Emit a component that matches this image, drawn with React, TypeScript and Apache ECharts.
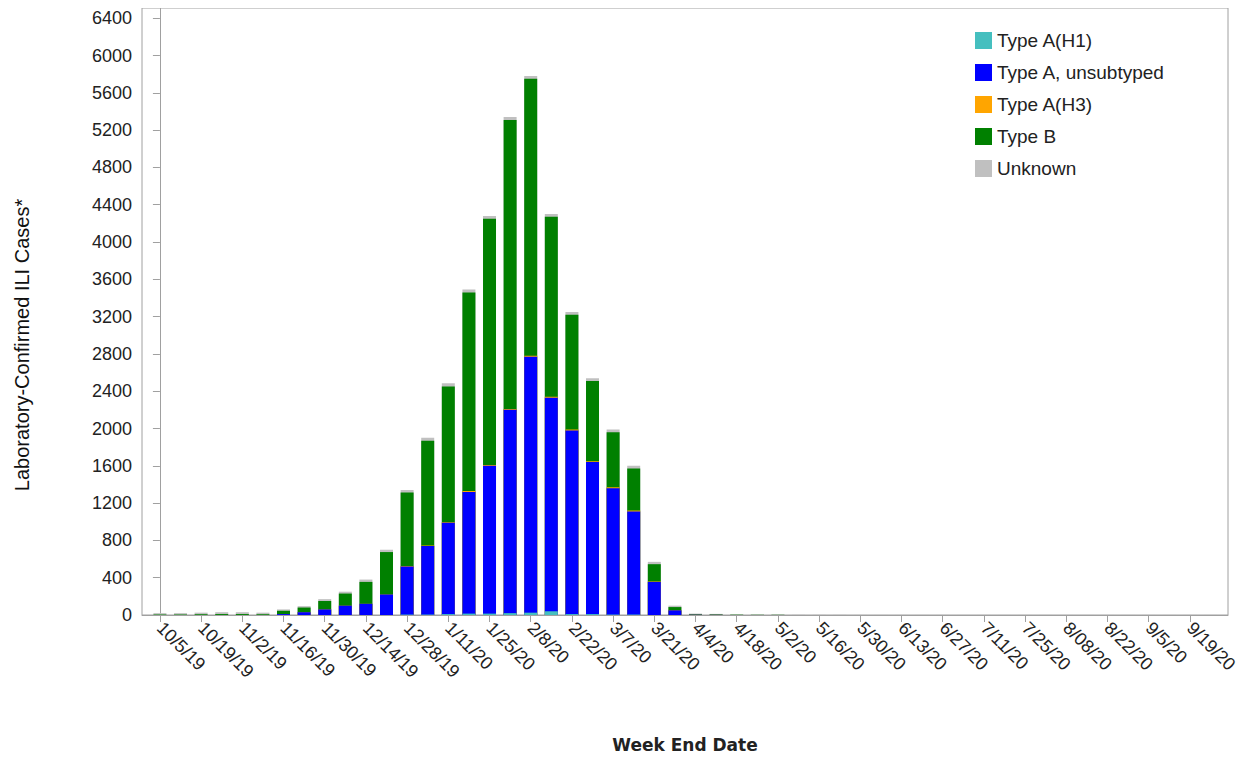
import { useEffect, useRef } from "react";
import * as echarts from "echarts";

const weeks = [
  "10/5/19", "10/12/19", "10/19/19", "10/26/19", "11/2/19", "11/9/19", "11/16/19", "11/23/19",
  "11/30/19", "12/7/19", "12/14/19", "12/21/19", "12/28/19", "1/4/20", "1/11/20", "1/18/20",
  "1/25/20", "2/1/20", "2/8/20", "2/15/20", "2/22/20", "2/29/20", "3/7/20", "3/14/20",
  "3/21/20", "3/28/20", "4/4/20", "4/11/20", "4/18/20", "4/25/20", "5/2/20", "5/9/20",
  "5/16/20", "5/23/20", "5/30/20", "6/6/20", "6/13/20", "6/20/20", "6/27/20", "7/4/20",
  "7/11/20", "7/18/20", "7/25/20", "8/1/20", "8/08/20", "8/15/20", "8/22/20", "8/29/20",
  "9/5/20", "9/12/20", "9/19/20", "9/26/20",
];

const typeAH1 = [
  0, 0, 0, 0, 0, 0, 0, 0, 0, 0, 0, 0, 5, 5, 10, 15, 15, 20, 25, 40, 10, 10, 5, 5,
  0, 0, 0, 0, 0, 0, 0, 0, 0, 0, 0, 0, 0, 0, 0, 0, 0, 0, 0, 0, 0, 0, 0, 0, 0, 0, 0, 0,
];
const typeAUnsub = [
  0, 0, 0, 0, 0, 0, 10, 30, 60, 100, 120, 220, 515, 735, 980, 1305, 1585, 2180, 2745, 2290, 1970, 1630, 1355, 1105,
  355, 50, 3, 2, 0, 0, 0, 0, 0, 0, 0, 0, 0, 0, 0, 0, 0, 0, 0, 0, 0, 0, 0, 0, 0, 0, 0, 0,
];
const typeAH3 = [
  0, 0, 0, 0, 0, 0, 0, 0, 0, 0, 0, 0, 5, 5, 5, 10, 10, 10, 10, 10, 10, 10, 10, 10,
  5, 0, 0, 0, 0, 0, 0, 0, 0, 0, 0, 0, 0, 0, 0, 0, 0, 0, 0, 0, 0, 0, 0, 0, 0, 0, 0, 0,
];
const typeB = [
  5, 5, 8, 10, 10, 8, 35, 50, 90, 130, 235, 455, 790, 1125, 1455, 2130, 2640, 3100, 2970, 1930, 1230, 860, 590, 450,
  185, 35, 5, 4, 3, 2, 2, 0, 0, 0, 0, 0, 0, 0, 0, 0, 0, 0, 0, 0, 0, 0, 0, 0, 0, 0, 0, 0,
];
const unknown = [
  15, 15, 17, 20, 20, 17, 15, 15, 20, 20, 25, 25, 25, 30, 35, 30, 30, 30, 30, 30, 30, 30, 30, 30,
  25, 15, 7, 6, 7, 6, 6, 3, 2, 2, 1, 1, 1, 1, 1, 1, 1, 1, 1, 1, 1, 1, 1, 1, 1, 1, 1, 1,
];

const yTicks = Array.from({ length: 17 }, (_, i) => i * 400);
const xTicks = weeks.map((_, i) => i).filter((i) => i % 2 === 0);

const seriesDefs = [
  { name: "Type A(H1)", color: "#45bfbf", data: typeAH1 },
  { name: "Type A, unsubtyped", color: "#0000ff", data: typeAUnsub },
  { name: "Type A(H3)", color: "#ffa500", data: typeAH3 },
  { name: "Type B", color: "#008000", data: typeB },
  { name: "Unknown", color: "#c0c0c0", data: unknown },
];

export default function App() {
  const ref = useRef<HTMLDivElement | null>(null);

  useEffect(() => {
    if (!ref.current) return;
    const chart = echarts.init(ref.current, undefined, { renderer: "svg" });
    const font = "'Liberation Sans', Arial, sans-serif";

    // value x axis doesn't stack, so overlay cumulative bars (lower layers on top)
    const cumulative = seriesDefs.map((_, k) =>
      weeks.map((_, i) => seriesDefs.slice(0, k + 1).reduce((sum, s) => sum + s.data[i], 0))
    );

    chart.setOption({
      animation: false,
      backgroundColor: "#fff",
      textStyle: { fontFamily: font },
      graphic: [
        {
          type: "text",
          x: 14,
          y: 337,
          rotation: Math.PI / 2,
          style: {
            text: "Laboratory-Confirmed ILI Cases*",
            fontSize: 20,
            fontFamily: font,
            fill: "#111",
            align: "center",
            verticalAlign: "middle",
          },
        },
      ],
      legend: {
        orient: "vertical",
        left: 962,
        top: 18,
        itemWidth: 17,
        itemHeight: 17,
        itemGap: 13,
        icon: "rect",
        textStyle: { fontSize: 19, color: "#222", fontFamily: font },
        data: seriesDefs.map((s) => s.name),
      },
      grid: {
        left: 134, right: 12, top: 0, bottom: 144,
        outerBoundsMode: "none",
        show: true, borderColor: "#a0a0a0", borderWidth: 1,
      },
      xAxis: {
        type: "value",
        min: -0.87,
        max: 51.85,
        name: "Week End Date",
        nameLocation: "middle",
        nameGap: 121,
        nameTextStyle: { fontSize: 17, fontWeight: "bold", color: "#222", fontFamily: "'DejaVu Sans', Verdana, sans-serif" },
        axisLine: { show: true, lineStyle: { color: "#a0a0a0" } },
        axisTick: { show: true, customValues: xTicks, length: 7, lineStyle: { color: "#a0a0a0" } },
        axisLabel: {
          customValues: xTicks,
          rotate: -45,
          fontSize: 18,
          color: "#222",
          margin: 10,
          formatter: (v: number) => weeks[Math.round(v)] ?? "",
        },
        splitLine: { show: false },
      },
      yAxis: {
        type: "value",
        min: 0,
        max: 6510,
        axisLine: { show: true, lineStyle: { color: "#a0a0a0" } },
        axisTick: { show: true, customValues: yTicks, length: 7, lineStyle: { color: "#a0a0a0" } },
        axisLabel: { customValues: yTicks, fontSize: 18, color: "#222", margin: 10, formatter: (v: number) => String(v) },
        splitLine: { show: false },
      },
      series: seriesDefs.map((s, k) => ({
        name: s.name,
        type: "bar",
        barWidth: 13,
        barGap: "-100%",
        z: 10 - k,
        itemStyle: { color: s.color },
        data: cumulative[k].map((v, i) => [i, v]),
      })),
    });

    return () => chart.dispose();
  }, []);

  return <div ref={ref} style={{ width: 1232, height: 751 }} />;
}
